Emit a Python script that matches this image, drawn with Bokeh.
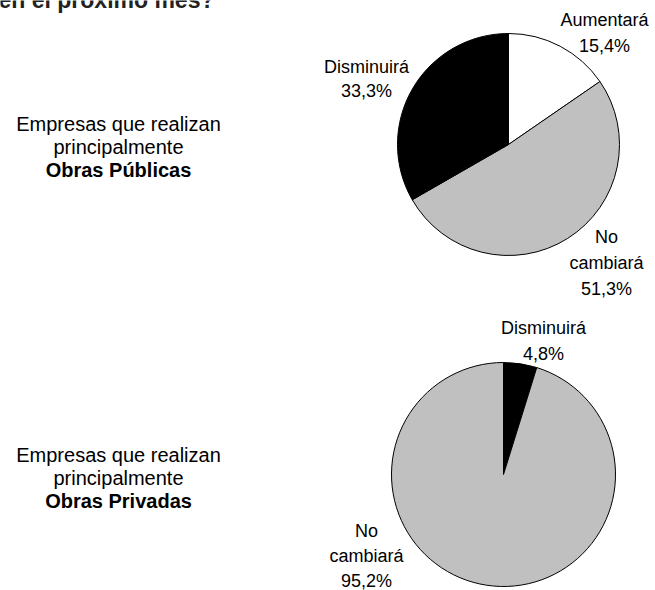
import math
from bokeh.plotting import figure
from bokeh.models import Range1d, ColumnDataSource
from bokeh.core.properties import value
from bokeh.embed import file_html
from bokeh.resources import INLINE

# ---- data ----
pub_categories = ["Aumentará", "No cambiará", "Disminuirá"]
pub_values = [15.4, 51.3, 33.3]
pub_colors = ["#FFFFFF", "#C0C0C0", "#000000"]

priv_categories = ["Disminuirá", "No cambiará"]
priv_values = [4.8, 95.2]
priv_colors = ["#000000", "#C0C0C0"]

title_text = "en el próximo mes?"
group_lines_pub = ["Empresas que realizan", "principalmente", "Obras Públicas"]
group_lines_priv = ["Empresas que realizan", "principalmente", "Obras Privadas"]

W, H = 655, 590
FONT = "Liberation Sans"

p = figure(width=W, height=H, output_backend="svg", toolbar_location=None,
           x_range=Range1d(0, W), y_range=Range1d(H, 0),
           min_border=0, outline_line_color=None, margin=(0, 0, 0, 0))
p.axis.visible = False
p.grid.visible = False
p.background_fill_color = "white"
p.border_fill_color = "white"


def fmt(v):
    return f"{v:.1f}".replace(".", ",") + "%"


def pie(cx, cy, r, vals, colors):
    total = sum(vals)
    starts, ends = [], []
    acc = 0.0
    for v in vals:
        starts.append(math.pi / 2 - 2 * math.pi * acc / total)
        acc += v
        ends.append(math.pi / 2 - 2 * math.pi * acc / total)
    src = ColumnDataSource(dict(x=[cx] * len(vals), y=[cy] * len(vals),
                                s=starts, e=ends, c=colors))
    p.wedge(x="x", y="y", radius=r, radius_units="screen",
            start_angle="s", end_angle="e", direction="clock",
            fill_color="c", line_color="black", line_width=1, source=src)


def label(x, y, lines, size="18px", bold_last=False, pitch=26):
    n = len(lines)
    for i, t in enumerate(lines):
        yy = y + (i - (n - 1) / 2) * pitch
        p.text(x=[x], y=[yy], text=[t], text_font=value(FONT),
               text_font_size=size, text_align="center", text_baseline="middle",
               text_color="black",
               text_font_style="bold" if (bold_last and i == n - 1) else "normal")


# title (cut off at the top)
p.text(x=[-2], y=[-1], text=[title_text], text_font=value(FONT),
       text_font_size="23px", text_font_style="bold", text_align="left",
       text_baseline="alphabetic", text_color="#222222")

# Obras Públicas
pie(508, 144, 111, pub_values, pub_colors)
label(604, 32, [pub_categories[0], fmt(pub_values[0])])
label(366, 78, [pub_categories[2], fmt(pub_values[2])], pitch=24)
label(606, 262, ["No", "cambiará", fmt(pub_values[1])], pitch=26)
label(118, 146, group_lines_pub, size="20px", bold_last=True, pitch=23)

# Obras Privadas
pie(503, 474, 112, priv_values, priv_colors)
label(543, 340, [priv_categories[0], fmt(priv_values[0])], pitch=26)
label(366, 555, ["No", "cambiará", fmt(priv_values[1])], pitch=25)
label(118, 477, group_lines_priv, size="20px", bold_last=True, pitch=23)

open("out.html", "w").write(file_html(p, INLINE))
